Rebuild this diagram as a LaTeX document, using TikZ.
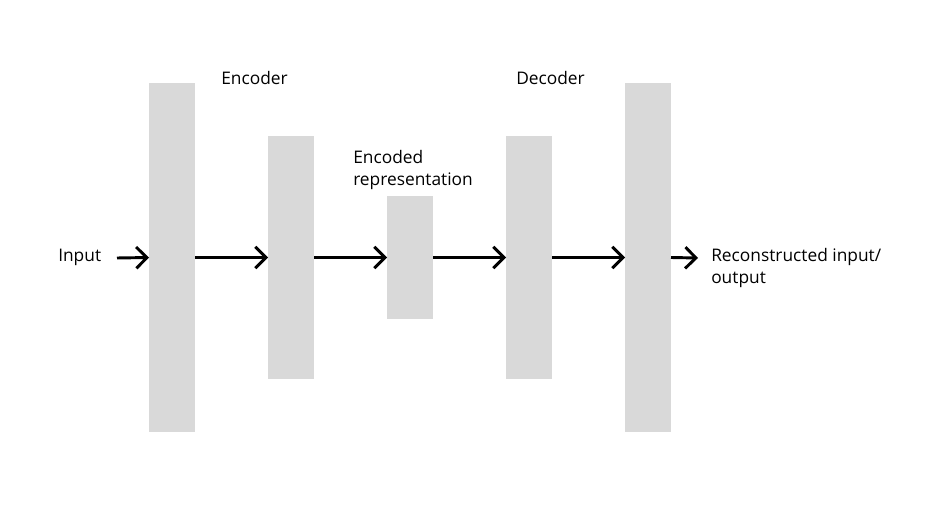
\documentclass[tikz,border=0pt]{standalone}
\usepackage{fontspec}
\setmainfont{Open Sans}
\usepackage{tikz}
\usetikzlibrary{positioning,arrows.meta}
\definecolor{barfill}{HTML}{D9D9D9}

\begin{document}
\begin{tikzpicture}[x=0.75pt, y=-0.75pt, node distance=54.75pt,
        layer/.style={fill=barfill, draw=none, minimum width=34.5pt, inner sep=0pt, outer sep=0pt},
        lbl/.style={font=\fontsize{13}{16.5}\selectfont, align=left, inner sep=0pt},
        flow/.style={line width=2.2pt, -{Straight Barb[length=8pt, width=16pt, line width=2.2pt]}}
    ]
        \useasboundingbox (0,0) rectangle (952,506);

        % Layers
        \node [layer, minimum height=261.75pt] (l1) at (172,257.5) {};
        \node [layer, minimum height=181.5pt, right=of l1] (l2) {};
        \node [layer, minimum height=92.25pt, right=of l2] (code) {};
        \node [layer, minimum height=181.5pt, right=of code] (l4) {};
        \node [layer, minimum height=261.75pt, right=of l4] (l5) {};

        % Labels
        \node [lbl, anchor=west] (inlbl) at (58,257) {Input};
        \node [lbl, anchor=west] (enclbl) at (221,78) {Encoder};
        \node [lbl, anchor=west] (declbl) at (516,78) {Decoder};
        \node [lbl, anchor=west] (codelbl) at (353,170) {Encoded\\representation};
        \node [lbl, anchor=west] (outlbl) at (711,268) {Reconstructed input/\\output};

        \coordinate (input) at (117,258);
        \coordinate (output) at (698,258);

        \draw [flow] (input) -- (l1.west);
        \draw [flow] (l1.east) -- (l2.west);
        \draw [flow] (l2.east) -- (code.west);
        \draw [flow] (code.east) -- (l4.west);
        \draw [flow] (l4.east) -- (l5.west);
        \draw [flow] (l5.east) -- (output);
    \end{tikzpicture}
\end{document}
